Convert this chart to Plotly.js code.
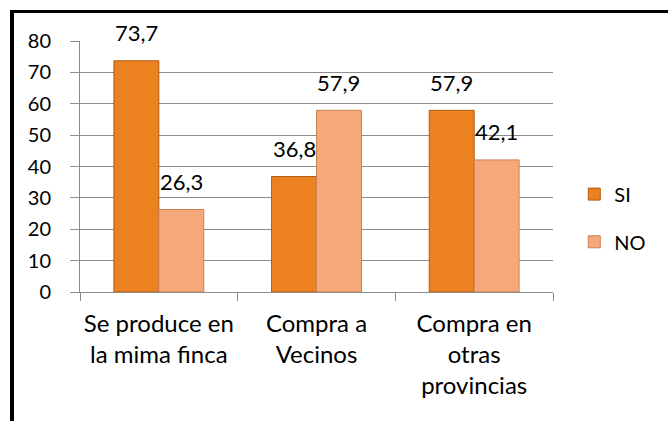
<!DOCTYPE html>
<html>
<head>
<meta charset="utf-8">
<script src="https://cdn.plot.ly/plotly-3.0.1.min.js"></script>
<style>
html,body{margin:0;padding:0;background:#fff;}
#wrap{position:relative;width:668px;height:421px;}
#chart{width:668px;height:421px;}
#frameTop{position:absolute;left:10px;top:10px;width:658px;height:3px;background:#000;}
#frameLeft{position:absolute;left:10px;top:10px;width:4px;height:411px;background:#000;}
</style>
</head>
<body>
<div id="wrap">
<div id="chart"></div>
<div id="frameTop"></div>
<div id="frameLeft"></div>
</div>
<script>
var categories = ["Se produce en<br>la mima finca", "Compra a<br>Vecinos", "Compra en<br>otras<br>provincias"];
var siValues = [73.7, 36.8, 57.9];
var noValues = [26.3, 57.9, 42.1];
var seriesNames = ["SI", "NO"];
var yTicks = [0, 10, 20, 30, 40, 50, 60, 70, 80];

var FONT = "Lato, 'Open Sans', sans-serif";
var grid = "#8c8c8c";

function fmt(v){ return v.toFixed(1).replace(".", ","); }

var traceSI = {
  type: "bar", name: seriesNames[0], x: categories, y: siValues,
  marker: {color: "#EC821F", line: {color: "#B45A12", width: 1}},
  legend: "legend", hoverinfo: "skip"
};
var traceNO = {
  type: "bar", name: seriesNames[1], x: categories, y: noValues,
  marker: {color: "#F5A97A", line: {color: "#C98052", width: 1}},
  legend: "legend2", hoverinfo: "skip"
};

var off = 0.1425;
var annotations = [];
siValues.forEach(function(v, i){
  annotations.push({x: i - off, y: v, xref: "x", yref: "y", text: fmt(v), showarrow: false,
    yanchor: "middle", yshift: 28, font: {family: FONT, size: 22, color: "#000"}});
});
noValues.forEach(function(v, i){
  annotations.push({x: i + off, y: v, xref: "x", yref: "y", text: fmt(v), showarrow: false,
    yanchor: "middle", yshift: 28, font: {family: FONT, size: 22, color: "#000"}});
});

var layout = {
  width: 668, height: 421,
  margin: {l: 80, r: 115, t: 41, b: 129},
  paper_bgcolor: "#fff", plot_bgcolor: "#fff",
  font: {family: FONT, size: 22, color: "#000"},
  barmode: "group", bargap: 0.43, bargroupgap: 0,
  xaxis: {
    type: "category", tickson: "boundaries", ticks: "outside", ticklen: 8, tickcolor: grid,
    showline: true, linecolor: grid, linewidth: 1, showgrid: false,
    tickangle: 0, ticklabelstandoff: 10, automargin: false,
    tickfont: {family: FONT, size: 24, color: "#000"}, fixedrange: true
  },
  yaxis: {
    range: [0, 80], tickvals: yTicks, ticks: "outside", ticklen: 9, tickcolor: grid,
    showline: true, linecolor: grid, linewidth: 1,
    showgrid: true, gridcolor: grid, gridwidth: 1, zeroline: false,
    ticklabelstandoff: 15, automargin: false,
    tickfont: {family: FONT, size: 20, color: "#000"}, fixedrange: true
  },
  showlegend: true,
  legend: {x: 1.045, xanchor: "left", y: 0.39, yanchor: "middle", yref: "paper",
    bgcolor: "rgba(0,0,0,0)", font: {family: FONT, size: 20, color: "#000"}},
  legend2: {x: 1.045, xanchor: "left", y: 0.20, yanchor: "middle", yref: "paper",
    bgcolor: "rgba(0,0,0,0)", font: {family: FONT, size: 20, color: "#000"}},
  annotations: annotations
};

Plotly.newPlot("chart", [traceSI, traceNO], layout, {displayModeBar: false, staticPlot: true});
</script>
</body>
</html>
